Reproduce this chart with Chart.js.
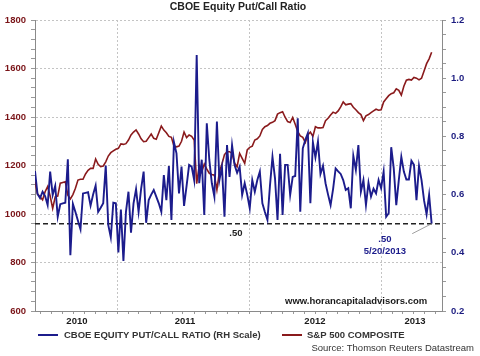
<!DOCTYPE html>
<html>
<head>
<meta charset="utf-8">
<script src="https://cdn.jsdelivr.net/npm/chart.js@4.4.0/dist/chart.umd.min.js"></script>
<style>
  html, body { margin: 0; padding: 0; background: #ffffff; }
  canvas { display: block; }
</style>
</head>
<body>
<canvas id="c" width="480" height="356"></canvas>
<script>
// Weekly data, 5/17/2010 .. 5/20/2013 (158 weeks)
const pcRatio = [
  0.681,0.602,0.588,0.610,0.595,0.564,0.679,0.599,0.630,0.524,
  0.567,0.570,0.572,0.721,0.392,0.568,0.540,0.510,0.481,0.604,
  0.606,0.608,0.562,0.600,0.631,0.541,0.555,0.570,0.700,0.496,
  0.453,0.572,0.570,0.401,0.549,0.372,0.541,0.610,0.469,0.570,
  0.619,0.541,0.620,0.679,0.503,0.581,0.600,0.616,0.593,0.570,
  0.541,0.667,0.581,0.698,0.513,0.780,0.742,0.604,0.696,0.561,
  0.630,0.702,0.696,0.650,1.080,0.639,0.720,0.530,0.845,0.719,
  0.639,0.593,0.851,0.650,0.696,0.524,0.770,0.661,0.770,0.702,
  0.675,0.696,0.599,0.639,0.600,0.553,0.650,0.610,0.650,0.679,
  0.570,0.540,0.513,0.630,0.730,0.656,0.513,0.740,0.530,0.702,
  0.702,0.599,0.661,0.664,0.862,0.541,0.759,0.788,0.811,0.570,
  0.780,0.728,0.782,0.671,0.699,0.639,0.600,0.564,0.620,0.690,
  0.680,0.671,0.650,0.616,0.622,0.553,0.733,0.685,0.770,0.610,
  0.650,0.564,0.641,0.593,0.620,0.604,0.650,0.622,0.679,0.524,
  0.536,0.763,0.690,0.564,0.650,0.730,0.679,0.652,0.652,0.716,
  0.702,0.581,0.699,0.650,0.580,0.532,0.599,0.500
];
const spx = [
  1133,1082,1071,1058,1092,1113,1074,1023,1071,1074,
  1127,1130,1133,1078,1062,1080,1106,1140,1143,1143,
  1165,1180,1188,1188,1227,1205,1195,1198,1215,1239,
  1253,1260,1267,1271,1289,1287,1290,1305,1326,1338,
  1347,1330,1310,1298,1300,1315,1330,1312,1308,1335,
  1363,1346,1335,1320,1316,1280,1277,1280,1300,1338,
  1315,1326,1320,1305,1125,1200,1174,1206,1185,1168,
  1163,1160,1100,1174,1206,1245,1257,1257,1250,1209,
  1195,1250,1229,1209,1264,1275,1280,1305,1310,1322,
  1349,1360,1365,1374,1378,1385,1412,1418,1422,1399,
  1381,1377,1398,1370,1340,1322,1316,1295,1326,1338,
  1320,1360,1355,1355,1357,1385,1395,1408,1420,1415,
  1425,1442,1462,1450,1453,1455,1440,1430,1418,1410,
  1385,1405,1410,1418,1425,1432,1428,1430,1462,1475,
  1488,1496,1500,1516,1510,1490,1527,1552,1555,1552,
  1563,1560,1553,1560,1590,1620,1640,1667
];
const weekIndex = pcRatio.map((_, i) => i);

// x axis (in weeks from 5/17/2010)
const firstWeek = new Date(2010, 4, 17);
const yearLabels = ['2010', '2011', '2012', '2013'];
const yearLabelWeeks = [16.6, 59.4, 110.8, 150.4];
const yearStartWeeks = [32.7, 84.86, 137.0];
const xMin = 0, xMax = 161.1;
// month-start minor tick marks
const monthTickWeeks = [];
for (let y = 2010, m = 5; y < 2013 || m <= 5; ) {
  const w = (new Date(y, m, 1) - firstWeek) / (7 * 86400000);
  monthTickWeeks.push(Math.round(w * 100) / 100);
  m++; if (m > 11) { m = 0; y++; }
}

// y axes
const spxMin = 600, spxMax = 1800, spxMajor = 200, spxMinor = 40;
const pcMin = 0.2, pcMax = 1.2, pcMajor = 0.2, pcMinor = 0.05;
const refLevel = 0.50;

const title = 'CBOE Equity Put/Call Ratio';
const seriesNames = ['CBOE EQUITY PUT/CALL RATIO (RH Scale)', 'S&P 500 COMPOSITE'];
const sourceText = 'Source: Thomson Reuters Datastream';
const siteText = 'www.horancapitaladvisors.com';
const lastDateText = '5/20/2013';

const BLUE = '#1c1c8c';
const RED = '#8a1a1c';
const FONT = '"Liberation Sans", Arial, Helvetica, sans-serif';
Chart.defaults.font.family = FONT;

const isMajor = (v, step) => Math.abs(v / step - Math.round(v / step)) < 1e-6;
const near = (list, v) => list.some(s => Math.abs(s - v) < 1e-6);

const overlay = {
  id: 'overlay',
  beforeDatasetsDraw(chart) {
    const { ctx, chartArea: a, scales: { y2 } } = chart;
    const yy = y2.getPixelForValue(refLevel);
    ctx.save();
    ctx.strokeStyle = '#222';
    ctx.lineWidth = 1.5;
    ctx.setLineDash([5, 3]);
    ctx.beginPath();
    ctx.moveTo(a.left, yy);
    ctx.lineTo(a.right, yy);
    ctx.stroke();
    ctx.restore();
  },
  afterDraw(chart) {
    const { ctx, scales: { x, y2 } } = chart;
    const yy = y2.getPixelForValue(refLevel);
    ctx.save();
    // title
    ctx.fillStyle = '#222';
    ctx.font = 'bold 10.5px ' + FONT;
    ctx.textAlign = 'center';
    ctx.textBaseline = 'middle';
    ctx.fillText(title, 238, 7);

    // website
    ctx.font = 'bold 9.5px ' + FONT;
    ctx.textAlign = 'left';
    ctx.fillStyle = '#1a1a1a';
    ctx.fillText(siteText, 285, 301);

    // annotations
    ctx.textAlign = 'center';
    ctx.fillStyle = '#222';
    ctx.font = 'bold 9.5px ' + FONT;
    ctx.fillText('.50', x.getPixelForValue(79.5), yy + 10);
    ctx.fillStyle = BLUE;
    ctx.fillText('.50', x.getPixelForValue(138.5), yy + 16);
    ctx.fillText(lastDateText, x.getPixelForValue(138.5), yy + 28);
    const lastX = x.getPixelForValue(weekIndex[weekIndex.length - 1]);
    ctx.strokeStyle = '#888';
    ctx.lineWidth = 0.8;
    ctx.beginPath();
    ctx.moveTo(x.getPixelForValue(149.3), yy + 10);
    ctx.lineTo(lastX, yy);
    ctx.stroke();

    // legend
    const ly = 335;
    ctx.lineWidth = 2;
    ctx.strokeStyle = BLUE;
    ctx.beginPath(); ctx.moveTo(38, ly); ctx.lineTo(58, ly); ctx.stroke();
    ctx.strokeStyle = RED;
    ctx.beginPath(); ctx.moveTo(282, ly); ctx.lineTo(302, ly); ctx.stroke();
    ctx.fillStyle = '#333';
    ctx.textAlign = 'left';
    ctx.font = 'bold 9.5px ' + FONT;
    ctx.fillText(seriesNames[0], 64, ly + 0.5);
    ctx.fillText(seriesNames[1], 307, ly + 0.5);

    // source
    ctx.font = '9.5px ' + FONT;
    ctx.textAlign = 'right';
    ctx.fillStyle = '#333';
    ctx.fillText(sourceText, 474, 348.5);
    ctx.restore();
  }
};

new Chart(document.getElementById('c'), {
  type: 'line',
  data: {
    labels: weekIndex,
    datasets: [
      { label: seriesNames[0], data: pcRatio, yAxisID: 'y2', borderColor: BLUE,
        borderWidth: 1.9, pointRadius: 0, tension: 0, fill: false },
      { label: seriesNames[1], data: spx, yAxisID: 'y', borderColor: RED,
        borderWidth: 1.6, pointRadius: 0, tension: 0, fill: false }
    ]
  },
  options: {
    responsive: false,
    animation: false,
    devicePixelRatio: 1,
    layout: { padding: { top: 20, left: 0, right: 0, bottom: 0 } },
    plugins: { legend: { display: false }, title: { display: false }, tooltip: { enabled: false } },
    scales: {
      x: {
        type: 'linear', min: xMin, max: xMax,
        afterBuildTicks(s) {
          const minor = monthTickWeeks.filter(w => w > xMin && w < xMax && !yearStartWeeks.some(y => Math.abs(y - w) < 0.5));
          s.ticks = yearLabelWeeks.concat(yearStartWeeks, minor).map(v => ({ value: v }));
        },
        afterFit(s) { s.height = 45; },
        ticks: {
          autoSkip: false, maxRotation: 0, padding: 2,
          color: '#1a1a1a', font: { size: 9.5, weight: 'bold' },
          callback(v) {
            const i = yearLabelWeeks.findIndex(w => Math.abs(w - v) < 1e-6);
            return i >= 0 ? yearLabels[i] : '';
          }
        },
        grid: {
          color: c => (c.tick && near(yearStartWeeks, c.tick.value)) ? '#c4c4c4' : 'rgba(0,0,0,0)',
          tickColor: c => (c.tick && !near(yearLabelWeeks, c.tick.value)) ? '#999' : 'rgba(0,0,0,0)',
          tickLength: 3, lineWidth: 1
        },
        border: { display: true, color: '#8a8a8a', width: 1, dash: [2, 2] }
      },
      y: {
        position: 'left', min: spxMin, max: spxMax,
        afterFit(s) { s.width = 35; },
        ticks: {
          stepSize: spxMinor, autoSkip: false, padding: 5,
          color: '#7a1418', font: { size: 9.5, weight: 'bold' },
          callback: v => isMajor(v, spxMajor) ? String(v) : ''
        },
        grid: {
          color: c => (c.tick && isMajor(c.tick.value, spxMajor)) ? '#c4c4c4' : 'rgba(0,0,0,0)',
          tickColor: '#999', tickLength: 4, lineWidth: 1
        },
        border: { display: true, color: '#8a8a8a', width: 1, dash: [2, 2] }
      },
      y2: {
        position: 'right', min: pcMin, max: pcMax,
        afterFit(s) { s.width = 38; },
        ticks: {
          stepSize: pcMinor, autoSkip: false, padding: 5,
          color: '#1c1c80', font: { size: 9.5, weight: 'bold' },
          callback: v => isMajor(v, pcMajor) ? v.toFixed(1) : ''
        },
        grid: { drawOnChartArea: false, tickColor: '#999', tickLength: 4 },
        border: { display: true, color: '#8a8a8a', width: 1 }
      }
    }
  },
  plugins: [overlay]
});
</script>
</body>
</html>
